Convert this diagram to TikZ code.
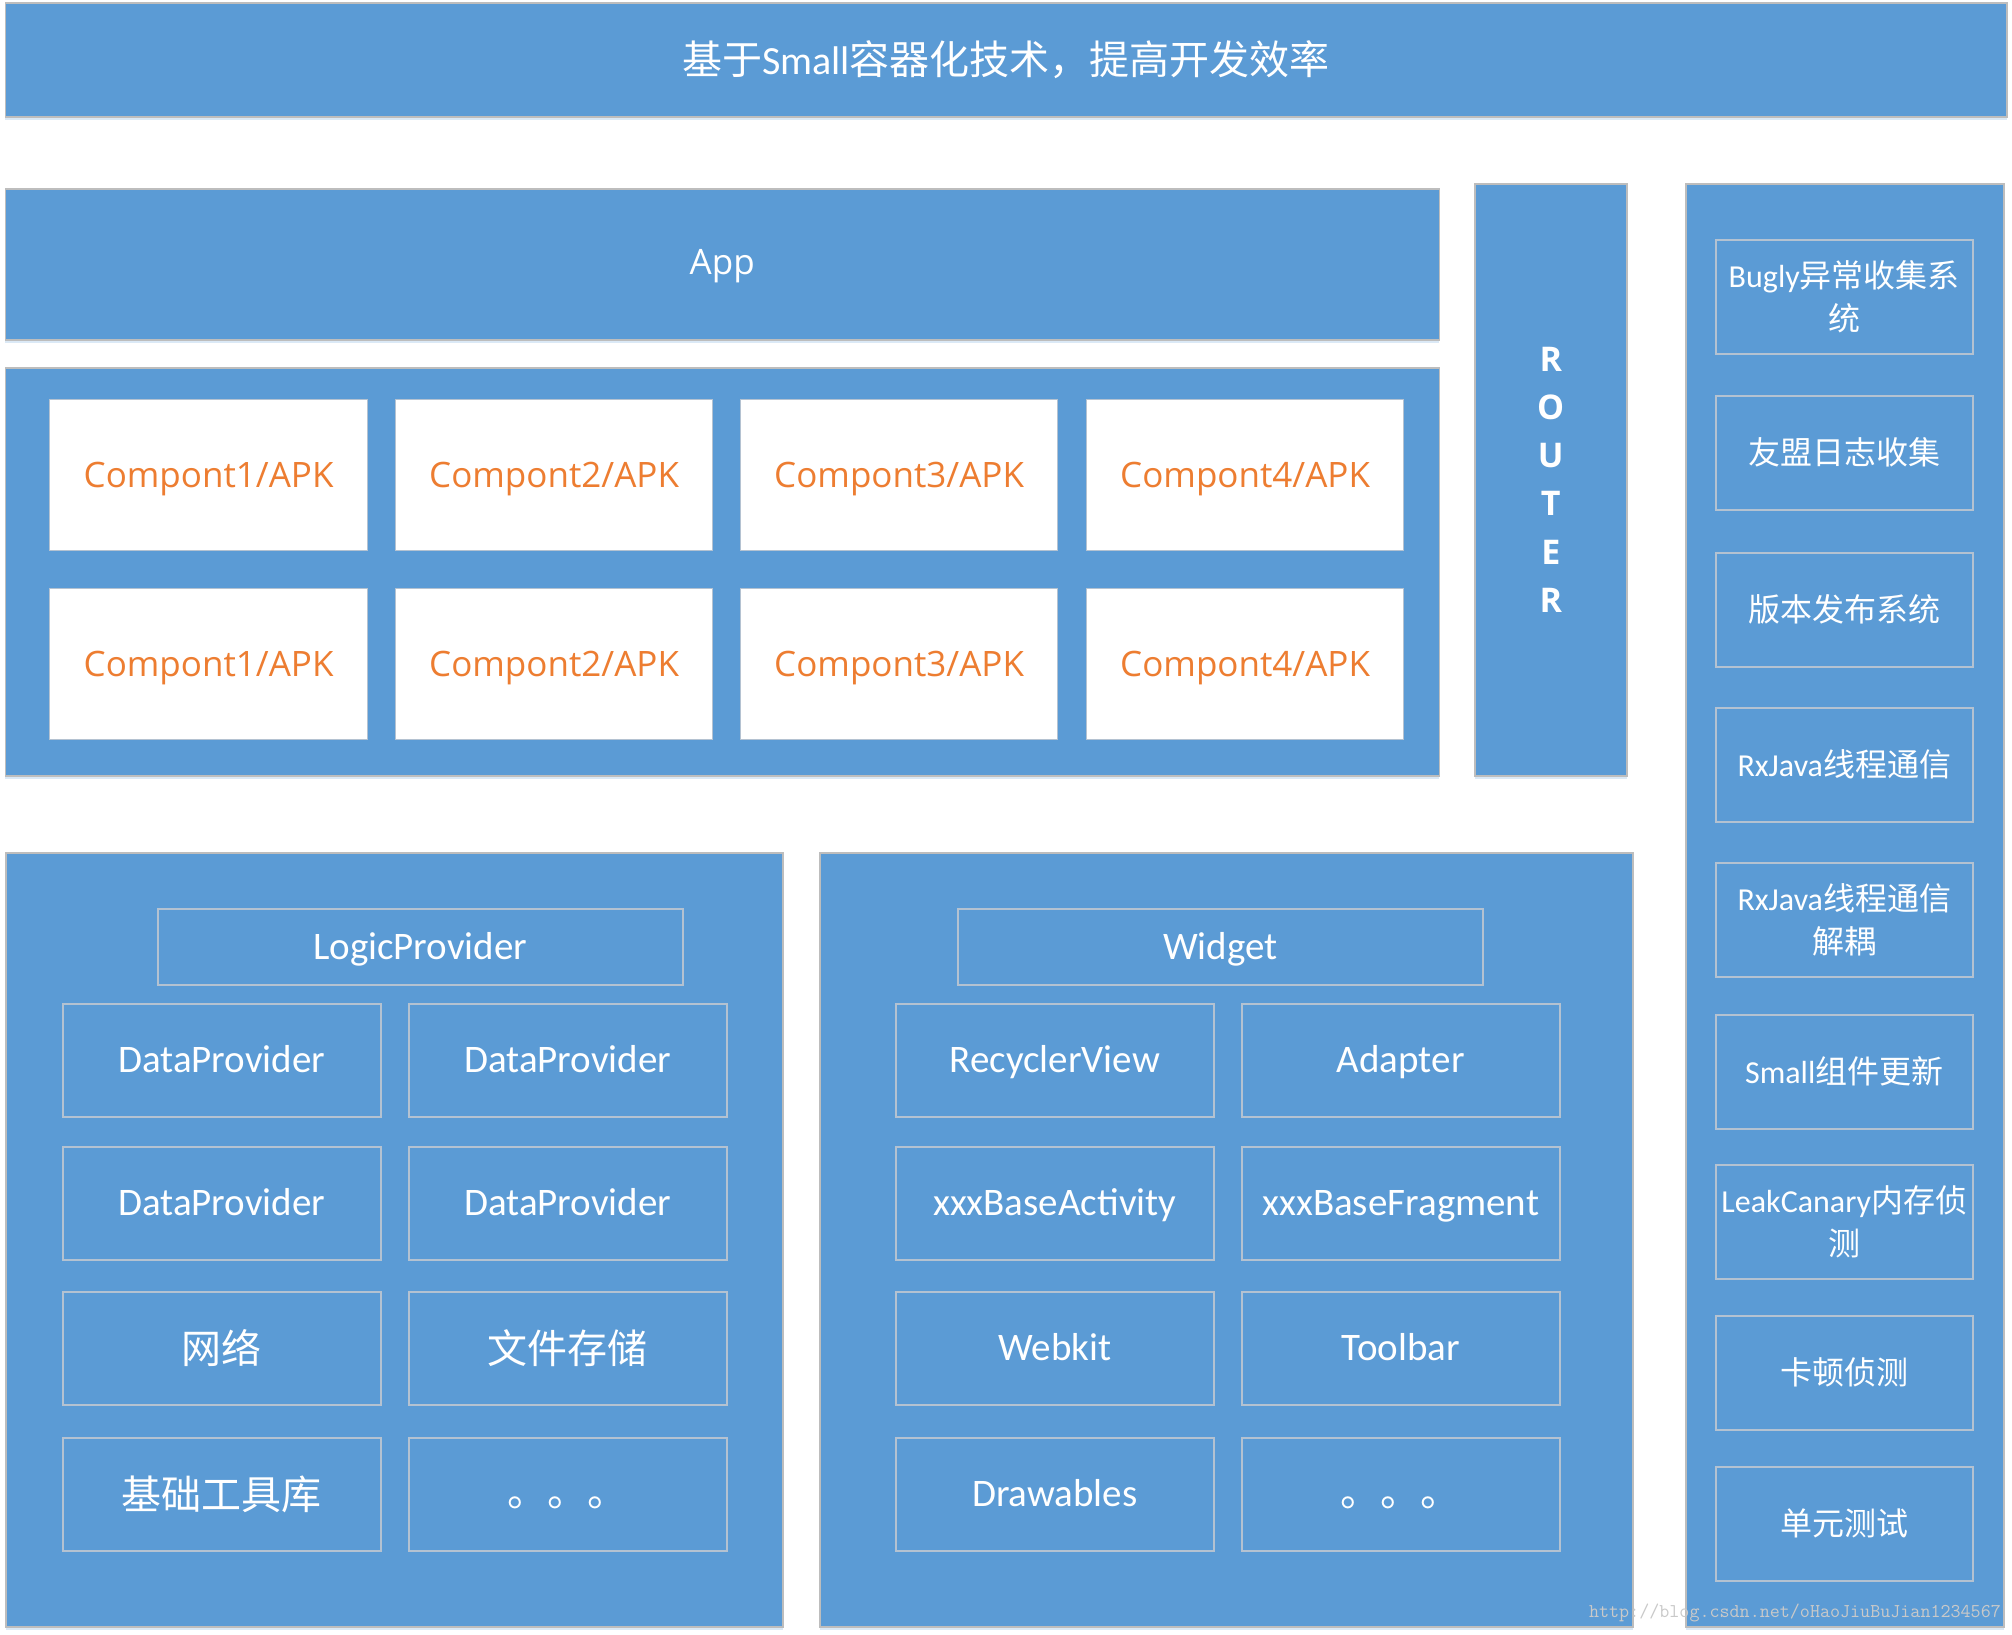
\documentclass[tikz,border=0pt]{standalone}
\usepackage{fontspec}
\setmainfont{Carlito}
\newfontfamily\osans{Open Sans}
\newfontfamily\cjk{Noto Sans CJK SC}
\usetikzlibrary{shadows}
\definecolor{bluefill}{HTML}{5B9BD5}
\definecolor{outerline}{HTML}{BDBDBD}
\definecolor{innerline}{HTML}{B4C2D1}
\definecolor{orangetxt}{HTML}{ED7D31}
\definecolor{wmark}{HTML}{C9C9C9}
\newcommand\lowdots{\raisebox{-9pt}[\height][\depth]{。。。}}
\begin{document}
\begin{tikzpicture}[x=1pt,y=-1pt,
  sz/.style 2 args={minimum width=#1pt, minimum height=#2pt},
  panel/.style={draw=outerline, line width=1.5pt, fill=bluefill, inner sep=0pt, anchor=north west,
    drop shadow={shadow xshift=0pt, shadow yshift=-3pt, fill=bluefill, opacity=0.22}},
  whitebox/.style={draw=innerline, line width=1.2pt, fill=white, inner sep=0pt, anchor=north west,
    text=orangetxt, font=\osans\fontsize{35}{40}\selectfont, text height=33pt, text depth=8pt},
  ibase/.style={draw=innerline, line width=1.5pt, fill=bluefill, inner sep=0pt, anchor=north west,
    text=white},
  innerbox/.style={ibase, font=\fontsize{39}{44}\selectfont, text height=32pt, text depth=7pt},
  rbox/.style={ibase, align=center, font=\fontsize{32}{43}\selectfont},
  cjkbox/.style={ibase, font=\cjk\fontsize{40}{44}\selectfont}
]
\useasboundingbox (0,0) rectangle (2012,1634);

% top banner
\node[panel, sz={2001.5}{114}, text=white, font=\fontsize{40}{44}\selectfont] (banner) at (4.5,2)
  {{\cjk 基于}Small{\cjk 容器化技术，提高开发效率}};

% App
\node[panel, sz={1434}{151}, text=white, font=\osans\fontsize{35}{40}\selectfont,
  text height=30pt, text depth=9pt] (app) at (4.5,188) {App};

% component container
\node[panel, sz={1434}{408}] (comps) at (4.5,367) {};
\node[whitebox, sz={318}{151}] (c11) at (49,399) {Compont1/APK};
\node[whitebox, sz={317}{151}] (c12) at (395,399) {Compont2/APK};
\node[whitebox, sz={317}{151}] (c13) at (740,399) {Compont3/APK};
\node[whitebox, sz={317}{151}] (c14) at (1086,399) {Compont4/APK};
\node[whitebox, sz={318}{151}] (c21) at (49,588) {Compont1/APK};
\node[whitebox, sz={317}{151}] (c22) at (395,588) {Compont2/APK};
\node[whitebox, sz={317}{151}] (c23) at (740,588) {Compont3/APK};
\node[whitebox, sz={317}{151}] (c24) at (1086,588) {Compont4/APK};

% ROUTER
\node[panel, sz={152}{592}] (router) at (1474,183) {};
\node[text=white, align=center, inner sep=0pt, font=\osans\bfseries\fontsize{34}{48.2}\selectfont]
  (routertxt) at (router.center) {R\\O\\U\\T\\E\\R};

% right panel
\node[panel, sz={318}{1443}] (rpanel) at (1685,183) {};
\node[rbox, sz={257}{114}] (r1) at (1715,239) {Bugly{\cjk 异常收集系}\\{\cjk 统}};
\node[rbox, sz={257}{114}] (r2) at (1715,395) {\cjk 友盟日志收集};
\node[rbox, sz={257}{114}] (r3) at (1715,552) {\cjk 版本发布系统};
\node[rbox, sz={257}{114}] (r4) at (1715,707) {RxJava{\cjk 线程通信}};
\node[rbox, sz={257}{114}] (r5) at (1715,862) {RxJava{\cjk 线程通信}\\{\cjk 解耦}};
\node[rbox, sz={257}{114}] (r6) at (1715,1014) {Small{\cjk 组件更新}};
\node[rbox, sz={257}{114}] (r7) at (1715,1164) {LeakCanary{\cjk 内存侦}\\{\cjk 测}};
\node[rbox, sz={257}{114}] (r8) at (1715,1315) {\cjk 卡顿侦测};
\node[rbox, sz={257}{114}] (r9) at (1715,1466) {\cjk 单元测试};

% left bottom panel
\node[panel, sz={777}{774}] (lpanel) at (5,852) {};
\node[innerbox, sz={525}{76}] (logic) at (157,908) {LogicProvider};
\node[innerbox, sz={318}{113}] (l11) at (62,1003) {DataProvider};
\node[innerbox, sz={318}{113}] (l12) at (408,1003) {DataProvider};
\node[innerbox, sz={318}{113}] (l21) at (62,1146) {DataProvider};
\node[innerbox, sz={318}{113}] (l22) at (408,1146) {DataProvider};
\node[cjkbox, sz={318}{113}] (l31) at (62,1291) {网络};
\node[cjkbox, sz={318}{113}] (l32) at (408,1291) {文件存储};
\node[cjkbox, sz={318}{113}] (l41) at (62,1437) {基础工具库};
\node[cjkbox, sz={318}{113}] (l42) at (408,1437) {\lowdots};

% widget panel
\node[panel, sz={813}{774}] (wpanel) at (819,852) {};
\node[innerbox, sz={525}{76}] (widget) at (957,908) {Widget};
\node[innerbox, sz={318}{113}] (w11) at (895,1003) {RecyclerView};
\node[innerbox, sz={318}{113}] (w12) at (1241,1003) {Adapter};
\node[innerbox, sz={318}{113}] (w21) at (895,1146) {xxxBaseActivity};
\node[innerbox, sz={318}{113}] (w22) at (1241,1146) {xxxBaseFragment};
\node[innerbox, sz={318}{113}] (w31) at (895,1291) {Webkit};
\node[innerbox, sz={318}{113}] (w32) at (1241,1291) {Toolbar};
\node[innerbox, sz={318}{113}] (w41) at (895,1437) {Drawables};
\node[cjkbox, sz={318}{113}] (w42) at (1241,1437) {\lowdots};

% watermark
\node[anchor=east, inner sep=0pt, text=wmark, font=\ttfamily\fontsize{19.5}{19.5}\selectfont] (wm) at (2001,1613)
  {http://blog.csdn.net/oHaoJiuBuJian1234567};
\end{tikzpicture}
\end{document}
